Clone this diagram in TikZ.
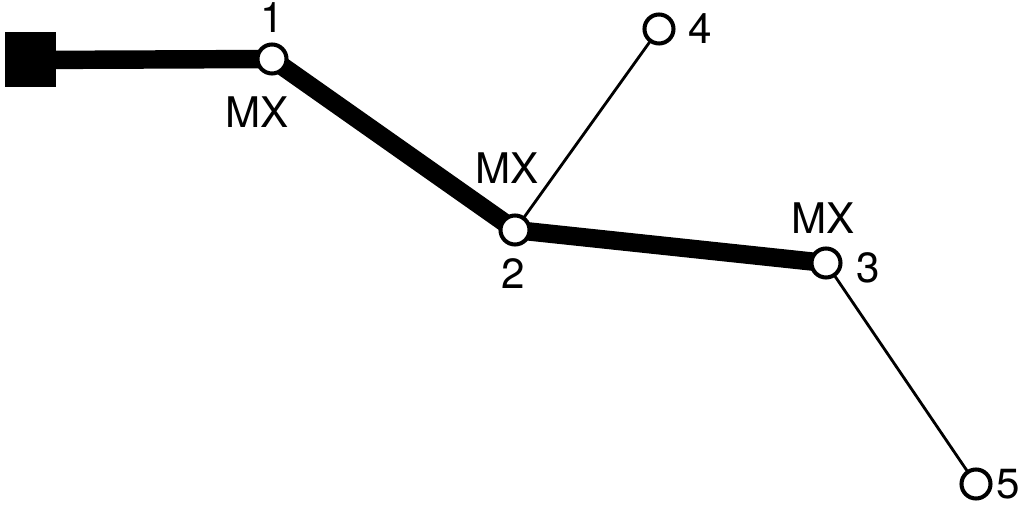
\documentclass[tikz,border=0pt]{standalone}
\usepackage{fontspec}
\setmainfont{TeX Gyre Heros}
\usetikzlibrary{positioning}

\begin{document}
\begin{tikzpicture}
	 \tikzstyle{vertex}=[circle,draw,line width=2.3pt,fill=white,inner sep=0pt,minimum size=0.58cm]
	 \tikzstyle{source}=[rectangle,fill=black,minimum width=1.02cm,minimum height=1.1cm,inner sep=0pt]
	 \tikzstyle{tag}=[inner sep=0pt,font=\fontsize{24}{28}\selectfont]
	 \tikzstyle{main} = [draw,line width=10.5pt,-,black]
	 \tikzstyle{edge} = [draw,line width=1.6pt,-,black]
	 \useasboundingbox (0,0) rectangle (20.48,10.16);
	 \coordinate (s) at (0.6,8.96);
	 \coordinate (c1) at (5.44,8.98);
	 \coordinate (c2) at (10.3,5.56);
	 \coordinate (c3) at (16.52,4.9);
	 \coordinate (c4) at (13.18,9.58);
	 \coordinate (c5) at (19.52,0.48);
	 \draw[main] (s) -- (c1) -- (c2) -- (c3);
	 \draw[edge] (c2) -- (c4);
	 \draw[edge] (c3) -- (c5);
	 \node[source] (s0) at (s) {};
	 \node[vertex] (v1) at (c1) {};
	 \node[vertex] (v2) at (c2) {};
	 \node[vertex] (v3) at (c3) {};
	 \node[vertex] (v4) at (c4) {};
	 \node[vertex] (v5) at (c5) {};
	 \node[tag] (l1) at (5.44,9.8) {1};
	 \node[tag] (m1) at (5.14,7.92) {MX};
	 \node[tag] (m2) at (10.14,6.8) {MX};
	 \node[tag] (l2) at (10.26,4.68) {2};
	 \node[tag] (m3) at (16.46,5.8) {MX};
	 \node[tag] (l3) at (17.36,4.8) {3};
	 \node[tag] (l4) at (14.0,9.58) {4};
	 \node[tag] (l5) at (20.16,0.48) {5};
 \end{tikzpicture}
\end{document}
